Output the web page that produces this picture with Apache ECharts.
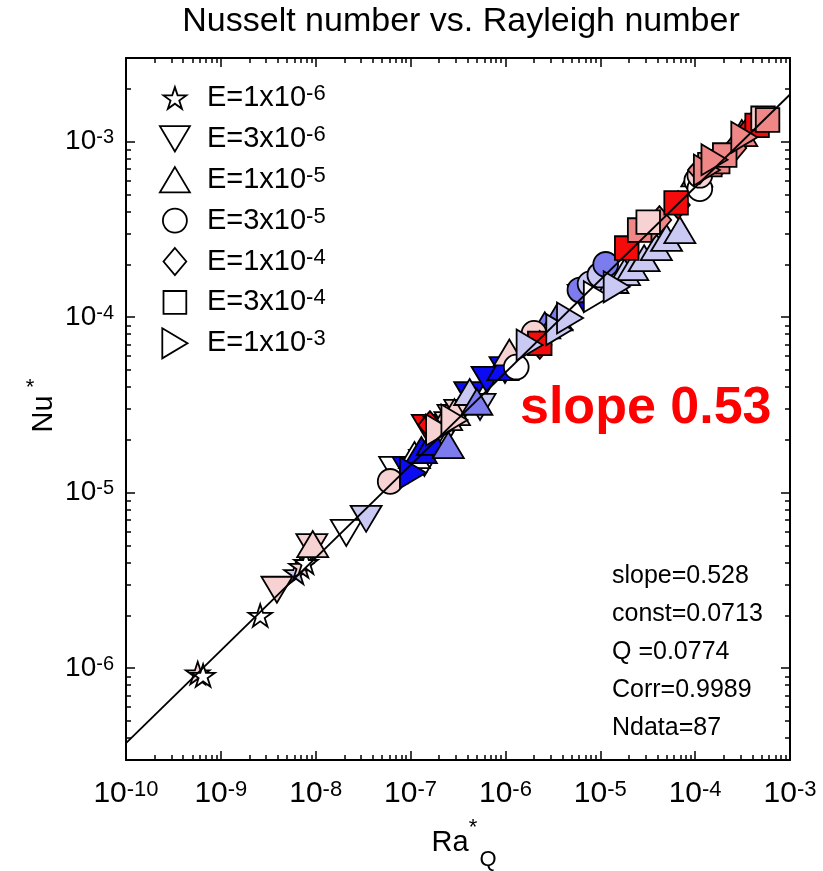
<!DOCTYPE html>
<html><head><meta charset="utf-8">
<script src="https://cdn.jsdelivr.net/npm/echarts@6/dist/echarts.min.js"></script>
<style>html,body{margin:0;padding:0;background:#fff}#c{width:823px;height:871px}</style>
</head><body><div id="c"></div>
<script>
// ---------------- data ----------------
const seriesNames = ['E=1x10^-6','E=3x10^-6','E=1x10^-5','E=3x10^-5','E=1x10^-4','E=3x10^-4','E=1x10^-3'];

// colour level of each point: 0 = blue ... 3 = white ... 6 = red
const raE1e6 = [5.7e-10, 6.5e-10, 2.6e-9, 6.2e-9, 7.0e-9, 7.9e-9];
const nuE1e6 = [9.4e-7, 9.1e-7, 2.0e-6, 3.5e-6, 3.8e-6, 4.0e-6];
const lvE1e6 = [4, 3, 3, 2, 4, 3];

const raE3e6 = [3.9e-9, 9.1e-9, 2.1e-8, 3.4e-8, 6.8e-8, 9.4e-8, 1.4e-7, 1.5e-7, 2.0e-7, 2.6e-7, 2.8e-7, 3.3e-7, 4.2e-7, 5.4e-7, 6.4e-7, 9.9e-7, 6.6e-6];
const nuE3e6 = [2.8e-6, 4.9e-6, 5.9e-6, 7.1e-6, 1.35e-5, 1.35e-5, 1.48e-5, 2.34e-5, 2.28e-5, 2.43e-5, 2.67e-5, 2.85e-5, 3.6e-5, 3.08e-5, 4.4e-5, 5.0e-5, 1.29e-4];
const lvE3e6 = [4, 4, 3, 2, 3, 0, 3, 6, 4, 4, 4, 4, 0, 2, 0, 0, 0];

const raE1e5 = [9.3e-9, 1.1e-7, 1.3e-7, 1.7e-7, 2.4e-7, 2.5e-7, 2.9e-7, 4.2e-7, 5.0e-7, 9.4e-7, 1.1e-6, 2.6e-6, 3.5e-6, 1.36e-5, 1.8e-5, 2.2e-5, 2.9e-5, 3.9e-5, 5.0e-5, 6.9e-5, 1.04e-4, 3.1e-4];
const nuE1e5 = [5.1e-6, 1.64e-5, 1.75e-5, 1.95e-5, 2.7e-5, 1.87e-5, 2.88e-5, 3.75e-5, 3.3e-5, 5.2e-5, 6.3e-5, 9.0e-5, 1.0e-4, 1.63e-4, 1.81e-4, 1.93e-4, 2.17e-4, 2.51e-4, 2.83e-4, 3.14e-4, 6.6e-4, 1.12e-3];
const lvE1e5 = [4, 3, 0, 0, 4, 1, 4, 2, 1, 0, 4, 1, 1, 2, 2, 2, 2, 2, 2, 2, 5, 5];

const raE3e5 = [6.1e-8, 1.3e-6, 2.0e-6, 6.1e-6, 7.8e-6, 9.9e-6, 1.14e-5, 1.04e-4, 1.12e-4, 1.12e-4];
const nuE3e5 = [1.16e-5, 5.2e-5, 8.1e-5, 1.43e-4, 1.55e-4, 1.74e-4, 2.0e-4, 6.0e-4, 5.4e-4, 6.44e-4];
const lvE3e5 = [4, 3, 4, 1, 2, 2, 1, 3, 3, 4];

const raE1e4 = [1.6e-7, 2.3e-6, 3.5e-5, 4.2e-5, 6.6e-5, 1.12e-4, 1.95e-4, 2.6e-4, 3.9e-4, 4.8e-4];
const nuE1e4 = [2.43e-5, 6.95e-5, 3.27e-4, 3.58e-4, 4.36e-4, 6.9e-4, 7.9e-4, 9.2e-4, 1.21e-3, 1.29e-3];
const lvE1e4 = [6, 6, 5, 5, 6, 5, 5, 5, 6, 6];

const raE3e4 = [2.3e-6, 1.9e-5, 2.6e-5, 3.2e-5, 6.3e-5, 1.43e-4, 1.73e-4, 2.05e-4, 4.5e-4, 5.2e-4, 5.8e-4];
const nuE3e4 = [7.1e-5, 2.48e-4, 3.14e-4, 3.48e-4, 4.48e-4, 7.4e-4, 7.7e-4, 8.4e-4, 1.24e-3, 1.36e-3, 1.33e-3];
const lvE3e4 = [6, 6, 5, 4, 6, 5, 5, 5, 6, 4, 5];

const raE1e3 = [1.06e-7, 2.0e-7, 2.9e-7, 1.8e-6, 3.7e-6, 4.8e-6, 9.2e-6, 1.49e-5, 1.33e-4, 1.6e-4, 3.3e-4];
const nuE1e3 = [1.3e-5, 2.28e-5, 2.6e-5, 6.95e-5, 8.5e-5, 9.9e-5, 1.31e-4, 1.49e-4, 6.9e-4, 7.9e-4, 1.06e-3];
const lvE1e3 = [0, 4, 4, 2, 2, 2, 3, 2, 5, 5, 5];

const xTickExps = [-10, -9, -8, -7, -6, -5, -4, -3];
const yTickExps = [-6, -5, -4, -3];
const xRange = [1e-10, 1e-3];
const yRange = [3e-7, 3e-3];
const fitSlope = 0.528, fitConst = 0.0713;
const statLines = ['slope=0.528', 'const=0.0713', 'Q =0.0774', 'Corr=0.9989', 'Ndata=87'];
const titleText = 'Nusselt number vs. Rayleigh number';
const annotText = 'slope 0.53';

// ---------------- styling ----------------
const PALETTE = ['#0c0cf2', '#7c7cee', '#c9c9f4', '#ffffff', '#f6d2d2', '#f08787', '#f40c0c'];
const SHAPES = [
  'path://M0,0M100,100M50,14L58.98,41.64L88.04,41.64L64.53,58.72L73.51,86.36L50,69.28L26.49,86.36L35.47,58.72L11.96,41.64L41.02,41.64Z',
  'path://M0,0M100,100M0,8L100,8L50,92Z',
  'path://M0,0M100,100M50,8L100,92L0,92Z',
  'path://M0,0M100,100M10,50A40,40,0,1,1,90,50A40,40,0,1,1,10,50Z',
  'path://M0,0M100,100M50,5L88,50L50,95L12,50Z',
  'path://M0,0M100,100M12,12L88,12L88,88L12,88Z',
  'path://M0,0M100,100M8,0L92,50L8,100Z'
];
const FONT = '"Liberation Sans", Arial, Helvetica, sans-serif';
const groups = [
  [raE1e6, nuE1e6, lvE1e6], [raE3e6, nuE3e6, lvE3e6], [raE1e5, nuE1e5, lvE1e5],
  [raE3e5, nuE3e5, lvE3e5], [raE1e4, nuE1e4, lvE1e4], [raE3e4, nuE3e4, lvE3e4], [raE1e3, nuE1e3, lvE1e3]
];
const L = Math.log10;
const xMin = L(xRange[0]), xMax = L(xRange[1]);
const yMin = L(yRange[0]), yMax = L(yRange[1]);

function minorTicks(lo, hi) {
  const out = [];
  for (let n = Math.floor(lo); n < Math.ceil(hi); n++) {
    for (let k = 2; k <= 9; k++) { const v = n + L(k); if (v > lo && v < hi) out.push(v); }
  }
  return out;
}
function expRich(size, sup) {
  return {
    b: { fontSize: size, lineHeight: size, verticalAlign: 'bottom', fontFamily: FONT, color: '#000' },
    s: { fontSize: sup, lineHeight: sup, verticalAlign: 'top', padding: [0, 0, 16, 0], fontFamily: FONT, color: '#000' }
  };
}
const expFmt = v => '{b|10}{s|' + Math.round(v) + '}';

function mkAxis(dim, pos, major, withLabel, minVal, maxVal, ticks) {
  return {
    type: 'value', position: pos, min: minVal, max: maxVal, gridIndex: 0,
    axisLine: { show: major, onZero: false, lineStyle: { color: '#000', width: 2 } },
    axisTick: { show: true, inside: true, length: major ? 9 : 5, customValues: ticks, lineStyle: { color: '#000', width: 1.5 } },
    axisLabel: withLabel ? {
      show: true, customValues: ticks, formatter: expFmt,
      rich: dim === 'x' ? expRich(30, 22) : expRich(28, 20), margin: dim === 'x' ? 19 : 12
    } : { show: false },
    splitLine: { show: false }, minorTick: { show: false }, z: 10
  };
}
const xMinor = minorTicks(xMin, xMax), yMinor = minorTicks(yMin, yMax);

const series = groups.map((g, gi) => ({
  name: seriesNames[gi], type: 'scatter', xAxisIndex: 0, yAxisIndex: 0,
  symbol: SHAPES[gi], symbolSize: 31,
  itemStyle: { color: p => PALETTE[p.value[2]], borderColor: '#000', borderWidth: 1.8, opacity: 1 },
  emphasis: { disabled: true },
  data: g[0].map((r, i) => [L(r), L(g[1][i]), g[2][i]]),
  z: 2
}));
series.push({
  type: 'line', xAxisIndex: 0, yAxisIndex: 0, symbol: 'none', silent: true,
  lineStyle: { color: '#000', width: 1.8 },
  data: [xMin, xMax].map(x => [x, L(fitConst) + fitSlope * x]), z: 5
});

const option = {
  animation: false,
  backgroundColor: '#fff',
  grid: { left: 126, right: 33, top: 58, bottom: 111, containLabel: false },
  xAxis: [
    mkAxis('x', 'bottom', true, true, xMin, xMax, xTickExps),
    mkAxis('x', 'bottom', false, false, xMin, xMax, xMinor),
    mkAxis('x', 'top', true, false, xMin, xMax, xTickExps),
    mkAxis('x', 'top', false, false, xMin, xMax, xMinor)
  ],
  yAxis: [
    mkAxis('y', 'left', true, true, yMin, yMax, yTickExps),
    mkAxis('y', 'left', false, false, yMin, yMax, yMinor),
    mkAxis('y', 'right', true, false, yMin, yMax, yTickExps),
    mkAxis('y', 'right', false, false, yMin, yMax, yMinor)
  ],
  legend: {
    orient: 'vertical', left: 154, top: 77, itemWidth: 30, itemHeight: 30, itemGap: 8,
    data: seriesNames.map((n, i) => ({ name: n, icon: SHAPES[i] })),
    itemStyle: { color: '#fff', borderColor: '#000', borderWidth: 1.8 },
    selectedMode: false,
    formatter: n => n.replace(/\^(.+)$/, '{s|$1}'),
    textStyle: {
      fontSize: 29, lineHeight: 30, fontFamily: FONT, color: '#000', padding: [0, 0, 0, 12],
      rich: {
        s: { fontSize: 22, lineHeight: 20, verticalAlign: 'top', padding: [0, 0, 10, 0], fontFamily: FONT, color: '#000' }
      }
    }
  },
  graphic: [
    { type: 'text', x: 461, y: 22, style: { text: titleText, font: '34px ' + FONT, fill: '#000', textAlign: 'center', textVerticalAlign: 'middle' } },
    { type: 'text', x: 612, y: 557, style: { text: statLines.join('\n'), font: '25px ' + FONT, lineHeight: 38, fill: '#000' } },
    { type: 'text', x: 520, y: 409, style: { text: annotText, font: 'bold 52px ' + FONT, fill: '#ff0000', textVerticalAlign: 'middle' } },
    { type: 'text', x: 450, y: 843, style: { text: 'Ra', font: '29px ' + FONT, fill: '#000', textAlign: 'center', textVerticalAlign: 'middle' } },
    { type: 'text', x: 473, y: 828, style: { text: '*', font: '22px ' + FONT, fill: '#000', textAlign: 'center', textVerticalAlign: 'middle' } },
    { type: 'text', x: 488, y: 860, style: { text: 'Q', font: '22px ' + FONT, fill: '#000', textAlign: 'center', textVerticalAlign: 'middle' } },
    { type: 'text', x: 44, y: 414, rotation: Math.PI / 2, style: { text: 'Nu', font: '29px ' + FONT, fill: '#000', textAlign: 'center', textVerticalAlign: 'middle' } },
    { type: 'text', x: 30, y: 388, style: { text: '*', font: '22px ' + FONT, fill: '#000', textAlign: 'center', textVerticalAlign: 'middle' } }
  ],
  series
};
const chart = echarts.init(document.getElementById('c'), null, { renderer: 'canvas' });
chart.setOption(option);
</script></body></html>
